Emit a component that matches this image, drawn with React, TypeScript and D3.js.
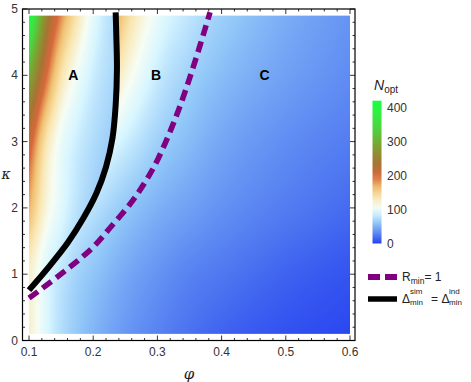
import React, { useMemo } from "react";
import * as d3 from "d3";

// ---------- data ----------
const phiGrid = [0.1, 0.125, 0.15, 0.175, 0.2, 0.25, 0.3, 0.35, 0.4, 0.5, 0.6];
const kappaGrid = [0.1, 1, 2, 3, 4, 4.9];

// N_opt in regions B and C (outside the black curve)
const nOptOuter = [
  [125, 95, 75, 62, 52, 38, 28, 20, 14, 7, 3],
  [125, 95, 80, 68, 60, 46, 36, 28, 23, 14, 8],
  [200, 130, 105, 88, 78, 62, 50, 42, 35, 25, 17],
  [260, 170, 140, 120, 108, 86, 67, 55, 45, 33, 25],
  [330, 240, 200, 180, 175, 118, 84, 67, 56, 42, 32],
  [440, 350, 300, 270, 250, 150, 100, 80, 66, 48, 36],
];

// N_opt in region A (left of the black curve)
const phiGridInner = [0.1, 0.125, 0.15, 0.175, 0.2, 0.25];
const nOptInner = [
  [120, 95, 75, 62, 52, 38],
  [125, 96, 78, 66, 56, 42],
  [170, 120, 95, 78, 66, 50],
  [215, 140, 102, 85, 74, 58],
  [300, 205, 138, 105, 85, 64],
  [420, 265, 185, 135, 98, 62],
];

// Delta_min^sim = Delta_min^ind (black solid)
const blackPhi = [0.1, 0.13, 0.16, 0.185, 0.205, 0.22, 0.23, 0.235, 0.237, 0.236, 0.235];
const blackKappa = [0.76, 1.1, 1.47, 1.85, 2.22, 2.62, 3.05, 3.55, 4.1, 4.6, 4.95];

// R_min = 1 (purple dashed)
const purplePhi = [0.1, 0.117, 0.164, 0.2, 0.228, 0.256, 0.279, 0.3, 0.33, 0.356, 0.382];
const purpleKappa = [0.64, 0.76, 1.11, 1.41, 1.72, 2.04, 2.36, 2.72, 3.4, 4.13, 4.95];

const xTicks = [0.1, 0.2, 0.3, 0.4, 0.5, 0.6];
const yTicks = [0, 1, 2, 3, 4, 5];
const cbTicks = [0, 100, 200, 300, 400];

const colorStops = [0, 20, 60, 90, 108, 135, 165, 198, 235, 285, 335, 385, 420];
const colorValues = [
  "#2540f0", "#4a72f0", "#90c6f8", "#d8f6ff", "#f6fdf4", "#fae6b0", "#f0c070",
  "#d8683a", "#a67434", "#80a030", "#50d040", "#30f040", "#18ff40",
];

const regionLabels = ["A", "B", "C"];
const regionPhi = [0.169, 0.298, 0.467];
const regionKappa = [4.0, 4.0, 4.0];

// ---------- helpers ----------
function mcubic(xs: number[], ys: number[], xv: number): number {
  const n = xs.length;
  if (xv <= xs[0]) return ys[0];
  if (xv >= xs[n - 1]) return ys[n - 1];
  const d: number[] = [];
  for (let i = 0; i < n - 1; i++) d.push((ys[i + 1] - ys[i]) / (xs[i + 1] - xs[i]));
  const m: number[] = new Array(n);
  m[0] = d[0];
  m[n - 1] = d[n - 2];
  for (let i = 1; i < n - 1; i++) m[i] = d[i - 1] * d[i] <= 0 ? 0 : (d[i - 1] + d[i]) / 2;
  for (let i = 0; i < n - 1; i++) {
    if (d[i] === 0) { m[i] = 0; m[i + 1] = 0; continue; }
    const a = m[i] / d[i], b = m[i + 1] / d[i];
    const s = a * a + b * b;
    if (s > 9) { const t = 3 / Math.sqrt(s); m[i] = t * a * d[i]; m[i + 1] = t * b * d[i]; }
  }
  let k = d3.bisectRight(xs, xv) - 1;
  k = Math.max(0, Math.min(n - 2, k));
  const h = xs[k + 1] - xs[k];
  const t = (xv - xs[k]) / h;
  const t2 = t * t, t3 = t2 * t;
  return (2 * t3 - 3 * t2 + 1) * ys[k] + (t3 - 2 * t2 + t) * h * m[k] +
    (-2 * t3 + 3 * t2) * ys[k + 1] + (t3 - t2) * h * m[k + 1];
}

function field(phis: number[], grid: number[][], p: number, k: number): number {
  const col = grid.map((row) => mcubic(phis, row, p));
  return mcubic(kappaGrid, col, k);
}

export default function App() {
  const x = d3.scaleLinear().domain([0.1, 0.6]).range([29, 350]);
  const y = d3.scaleLinear().domain([0, 5]).range([340.5, 9]);
  const color = d3.scaleLinear<string>().domain(colorStops).range(colorValues)
    .interpolate(d3.interpolateRgb).clamp(true);
  const boundary = d3.scaleLinear().domain(blackKappa).range(blackPhi).clamp(true);

  const hx0 = x(0.1), hx1 = x(0.6), hy0 = y(4.9), hy1 = y(0.1);

  const heatUrl = useMemo(() => {
    const cw = Math.round(hx1 - hx0), ch = Math.round(hy1 - hy0);
    const canvas = document.createElement("canvas");
    canvas.width = cw;
    canvas.height = ch;
    const ctx = canvas.getContext("2d");
    if (!ctx) return "";
    const img = ctx.createImageData(cw, ch);
    for (let j = 0; j < ch; j++) {
      const kap = y.invert(hy0 + ((j + 0.5) * (hy1 - hy0)) / ch);
      const bphi = boundary(kap);
      for (let i = 0; i < cw; i++) {
        const phi = x.invert(hx0 + ((i + 0.5) * (hx1 - hx0)) / cw);
        const inA = kap >= blackKappa[0] && phi < bphi;
        const v = inA ? field(phiGridInner, nOptInner, phi, kap) : field(phiGrid, nOptOuter, phi, kap);
        const c = d3.rgb(color(v));
        const o = (j * cw + i) * 4;
        img.data[o] = c.r; img.data[o + 1] = c.g; img.data[o + 2] = c.b; img.data[o + 3] = 255;
      }
    }
    ctx.putImageData(img, 0, 0);
    return canvas.toDataURL();
  }, []);

  const line = d3.line<[number, number]>().x((d) => x(d[0])).y((d) => y(d[1])).curve(d3.curveCatmullRom.alpha(0.5));
  const blackPath = line(blackPhi.map((p, i) => [p, blackKappa[i]] as [number, number])) || "";
  const purplePath = line(purplePhi.map((p, i) => [p, purpleKappa[i]] as [number, number])) || "";

  const fL = 22.5, fR = 355, fT = y(5), fB = y(0);
  const xMinor = d3.range(0.1, 0.6001, 0.02);
  const yMinor = d3.range(0, 5.0001, 0.2);
  const isMajorX = (v: number) => Math.abs(v * 10 - Math.round(v * 10)) < 1e-6;
  const isMajorY = (v: number) => Math.abs(v - Math.round(v)) < 1e-6;

  const cb = d3.scaleLinear().domain([0, 400]).range([243.5, 107.5]);
  const cbTop = cb(420), cbBot = cb(0);
  const cbStops = d3.range(0, 21).map((i) => i / 20);

  const tickFont = "Liberation Sans, Arial, sans-serif";
  const tickColor = "#333";

  return (
    <svg width={471} height={382} style={{ position: "absolute", left: 0, top: 0, background: "#fff" }}
      fontFamily={tickFont}>
      <defs>
        <linearGradient id="cbgrad" x1="0" y1="1" x2="0" y2="0">
          {cbStops.map((t) => (
            <stop key={t} offset={t} stopColor={color(t * 420)} />
          ))}
        </linearGradient>
      </defs>
      <rect x={0} y={0} width={471} height={382} fill="#fff" />
      {heatUrl && (
        <image href={heatUrl} x={hx0} y={hy0} width={hx1 - hx0} height={hy1 - hy0} preserveAspectRatio="none" />
      )}
      {/* curves */}
      <path d={purplePath} fill="none" stroke="#800080" strokeWidth={5.5} strokeDasharray="11,6" />
      <path d={blackPath} fill="none" stroke="#000" strokeWidth={6} />
      {/* region labels */}
      {regionLabels.map((t, i) => (
        <text key={t} x={x(regionPhi[i])} y={y(regionKappa[i])} fontSize={14} fontWeight="bold"
          textAnchor="middle" dominantBaseline="central" fill="#000">{t}</text>
      ))}
      {/* frame */}
      <rect x={fL} y={fT} width={fR - fL} height={fB - fT} fill="none" stroke="#000" strokeWidth={1.2} />
      {xMinor.map((v, i) => {
        const L = isMajorX(v) ? 5 : 2.5;
        return (
          <g key={"xt" + i} stroke="#000" strokeWidth={0.8}>
            <line x1={x(v)} x2={x(v)} y1={fB} y2={fB - L} />
            <line x1={x(v)} x2={x(v)} y1={fT} y2={fT + L} />
          </g>
        );
      })}
      {yMinor.map((v, i) => {
        const L = isMajorY(v) ? 5 : 2.5;
        return (
          <g key={"yt" + i} stroke="#000" strokeWidth={0.8}>
            <line x1={fL} x2={fL + L} y1={y(v)} y2={y(v)} />
            <line x1={fR} x2={fR - L} y1={y(v)} y2={y(v)} />
          </g>
        );
      })}
      {xTicks.map((v) => (
        <text key={"xl" + v} x={x(v)} y={352} fontSize={12} textAnchor="middle" dominantBaseline="central"
          fill={tickColor}>{v.toFixed(1)}</text>
      ))}
      {yTicks.map((v) => (
        <text key={"yl" + v} x={18} y={y(v)} fontSize={12} textAnchor="end" dominantBaseline="central"
          fill={tickColor}>{v}</text>
      ))}
      {/* axis titles */}
      <text x={189} y={379} fontSize={15} fontStyle="italic" fontFamily="DejaVu Serif, serif" textAnchor="middle"
        fill="#222">φ</text>
      <text x={6} y={179} fontSize={14} fontStyle="italic" fontFamily="DejaVu Serif, serif" textAnchor="middle"
        fill="#222">κ</text>
      {/* colorbar */}
      <rect x={372.5} y={cbTop} width={9} height={cbBot - cbTop} fill="url(#cbgrad)" />
      {cbTicks.map((v) => (
        <text key={"cb" + v} x={387} y={cb(v)} fontSize={12} dominantBaseline="central" fill={tickColor}>{v}</text>
      ))}
      <text x={374} y={90} fontSize={14} fill="#222">
        <tspan fontStyle="italic">N</tspan>
        <tspan fontSize={10} dy={3}>opt</tspan>
      </text>
      {/* legend */}
      <line x1={368} x2={380} y1={277} y2={277} stroke="#800080" strokeWidth={6} />
      <line x1={385} x2={397} y1={277} y2={277} stroke="#800080" strokeWidth={6} />
      <text x={402} y={281} fontSize={12} fill="#222">
        <tspan>R</tspan>
        <tspan fontSize={8.5} dy={3}>min</tspan>
        <tspan dy={-3}>= 1</tspan>
      </text>
      <line x1={368} x2={397} y1={299} y2={299} stroke="#000" strokeWidth={5.5} />
      <g fill="#222">
        <text x={402} y={302.5} fontSize={12}>Δ</text>
        <text x={410} y={294} fontSize={8}>sim</text>
        <text x={410} y={305} fontSize={8}>min</text>
        <text x={431} y={302.5} fontSize={12}>=</text>
        <text x={441.5} y={302.5} fontSize={12}>Δ</text>
        <text x={449} y={294} fontSize={8}>ind</text>
        <text x={449} y={305} fontSize={8}>min</text>
      </g>
    </svg>
  );
}
